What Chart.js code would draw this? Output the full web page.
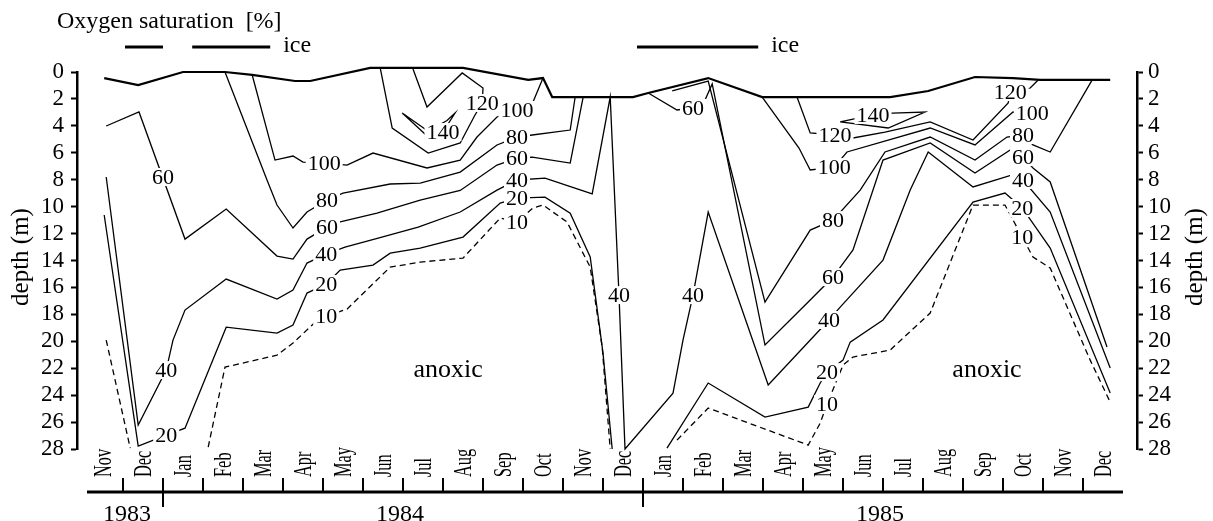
<!DOCTYPE html>
<html>
<head>
<meta charset="utf-8">
<script src="https://cdn.jsdelivr.net/npm/chart.js@4/dist/chart.umd.min.js"></script>
<style>
  html, body { margin: 0; padding: 0; background: #fff; }
  #wrap { width: 1213px; height: 521px; position: relative; }
</style>
</head>
<body>
<div id="wrap"><canvas id="chart" width="1213" height="521"></canvas></div>
<script>
// x = months since 1 Nov 1983, y = depth (m)
const monthLabels = ['Nov','Dec','Jan','Feb','Mar','Apr','May','Jun','Jul','Aug','Sep','Oct','Nov','Dec',
                     'Jan','Feb','Mar','Apr','May','Jun','Jul','Aug','Sep','Oct','Nov','Dec'];
const yearLabels = ['1983', '1984', '1985'];
const yearStarts = [0, 2, 14, 26];
const iceStart = [1.05, 2.73, 13.85];
const iceEnd   = [2.0, 4.68, 16.88];
const iceTextAfter = [false, true, true];

// water surface / ice underside
const surface = [[0.53,0.45],[1.38,0.97],[2.5,0],[3.55,0],[4.23,0.22],[5.3,0.67],[5.68,0.67],[7.18,-0.3],[9.5,-0.3],
  [11.13,0.59],[11.5,0.45],[11.73,1.86],[13.75,1.86],[14.13,1.56],[15.63,0.45],[16.98,1.86],[20.18,1.86],[21.13,1.41],
  [22.3,0.37],[23.25,0.45],[23.93,0.59],[25.68,0.59]];

// 10 % saturation (dashed)
const iso10a = [[0.58,19.91],[1.18,27.93]];
const iso10b = [[3.13,27.86],[3.55,21.92],[4.85,21.03],[5.25,20.13],[5.8,18.6],[6.08,18.13],[6.6,17.61],[7.68,14.49],
  [8.43,14.12],[9.5,13.82],[10.43,10.85],[10.85,11.14],[11.25,10.1],[11.5,9.88],[12.1,11.14],[12.68,14.49],[12.98,20.43],[13.18,28]];
const iso10c = [[14.85,27.34],[15.63,24.96],[18.13,27.71],[18.43,26.08],[18.6,24.67],[19.0,21.77],[19.25,21.17],[20.18,20.65],
  [21.18,17.9],[22.25,9.88],[23.05,9.88],[23.48,12.26],[23.75,13.74],[24.18,14.56],[25.18,21.4],[25.68,24.52]];

// 20 %
const iso20a = [[0.53,10.62],[1.38,27.79],[2.08,26.97],[2.55,26.45],[3.58,18.95],[4.85,19.39],[5.25,18.8],[5.6,16.42],
  [6.08,15.75],[6.43,14.71],[7.25,14.34],[7.68,13.45],[8.43,13.08],[9.5,12.26],[10.43,9.73],[10.85,9.36],[11.55,9.29],
  [12.18,10.48],[12.68,13.74],[13.0,20.88],[13.23,28]];
const iso20b = [[14.6,27.93],[15.63,23.1],[17.05,25.63],[18.13,24.89],[18.43,23.1],[18.6,22.29],[19.0,21.4],[19.18,20.06],
  [20.0,18.42],[22.25,9.66],[23.05,8.99],[23.48,10.1],[24.18,13.08],[25.68,23.85]];

// 40 %
const iso40 = [[0.58,7.8],[1.38,26.23],[2.08,22.14],[2.25,19.91],[2.55,17.68],[3.58,15.38],[4.85,16.86],[5.25,16.2],[5.6,14.19],
  [6.08,13.52],[6.55,13.0],[7.38,12.33],[8.38,11.52],[9.43,10.4],[10.35,8.77],[10.85,8.02],[11.55,7.88],[12.73,9.06],
  [13.18,1.86],[13.4,16.57],[13.55,28],[14.75,23.85],[15.0,19.91],[15.25,16.57],[15.63,10.4],[17.13,23.25],[18.65,18.42],
  [18.93,17.46],[20.0,13.97],[20.68,8.77],[21.13,5.94],[22.25,8.54],[23.23,7.65],[23.5,8.02],[24.18,10.4],[25.68,21.99]];

// 60 %
const iso60a = [[0.58,4.01],[1.4,2.97],[2.55,12.41],[3.58,10.18],[4.85,13.67],[5.25,13.89],[5.6,12.41],[6.1,11.52],
  [6.43,11.14],[7.35,10.48],[8.43,9.51],[9.43,8.8],[10.35,6.91],[10.85,6.39],[11.23,6.32],[12.18,6.76],[12.5,1.93]];
const iso60b = [[14.13,1.56],[14.85,2.82],[15.25,2.67],[15.55,2.08],[15.73,0.89],[17.05,20.28],[18.18,16.94],[18.75,15.23],
  [19.25,13.22],[20.0,6.54],[21.18,5.27],[22.3,7.5],[23.18,5.79],[23.5,6.32],[23.75,7.13],[24.18,8.17],[25.6,20.43]];

// 80 %
const iso80a = [[3.55,0],[4.6,8.02],[4.85,9.88],[5.25,11.59],[5.6,10.4],[6.1,9.51],[6.5,8.99],[7.68,8.32],[8.43,8.25],
  [9.43,7.43],[10.35,5.42],[10.85,4.83],[11.23,4.68],[12.18,4.31],[12.3,1.93]];
const iso80b = [[14.73,1.41],[15.63,0.67],[17.05,17.09],[18.18,11.74],[18.75,11.0],[19.43,8.77],[20.05,5.94],[21.18,4.83],
  [22.3,6.54],[23.1,4.83],[23.5,4.68],[23.75,5.42],[24.18,5.94],[25.23,0.59]];

// 100 %
const iso100a = [[4.23,0.22],[4.8,6.54],[5.25,6.24],[5.5,6.69],[6.03,6.76],[6.6,6.91],[7.25,6.02],[8.6,7.13],[9.43,6.54],
  [9.85,4.83],[10.35,3.34],[10.85,2.82],[11.25,2.23],[11.5,0.45]];
const iso100b = [[16.98,1.86],[17.9,5.65],[18.18,7.28],[18.78,7.06],[19.1,5.94],[21.18,4.16],[22.3,5.42],[23.25,2.97],[23.73,3.05]];

// 120 %
const iso120a = [[7.43,-0.3],[7.73,4.16],[8.63,6.02],[9.43,5.27],[9.8,3.19],[9.98,2.3],[10.0,1.19],[9.48,0.07],[8.6,2.6],[8.25,-0.22]];
const iso120b = [[17.85,1.86],[18.18,4.53],[18.8,4.68],[19.25,4.9],[20.05,4.46],[21.18,3.71],[22.25,5.05],[23.13,2.3],
  [23.18,1.49],[23.68,1.19],[23.88,0.59]];

// 140 %
const iso140a = [[7.98,3.05],[8.63,4.83],[9.0,4.46],[9.3,3.05],[9.1,3.6],[8.63,4.4],[7.98,3.05]];
const iso140b = [[18.93,3.71],[20.13,4.16],[21.05,2.97],[20.23,3.05],[19.75,3.19],[18.93,3.71]];

// isoline labels: text, month, depth
const contourLabels = [
  ['60',2.0,7.8],['40',2.08,22.14],['20',2.08,26.97],
  ['100',6.03,6.76],['80',6.1,9.51],['60',6.1,11.52],['40',6.08,13.52],['20',6.08,15.75],['10',6.08,18.13],
  ['140',9.0,4.46],['120',9.98,2.3],['100',10.85,2.82],['80',10.85,4.83],['60',10.85,6.39],['40',10.85,8.02],
  ['20',10.85,9.36],['10',10.85,11.14],
  ['40',13.4,16.57],['40',15.25,16.57],['60',15.25,2.67],
  ['120',18.8,4.68],['140',19.75,3.19],['100',18.78,7.06],['80',18.75,11.0],['60',18.75,15.23],['40',18.65,18.42],
  ['20',18.6,22.29],['10',18.6,24.67],
  ['120',23.18,1.49],['100',23.73,3.05],['80',23.5,4.68],['60',23.5,6.32],['40',23.5,8.02],['20',23.48,10.1],['10',23.48,12.26]
];
const zoneLabels = [['anoxic', 9.13, 22.14], ['anoxic', 22.6, 22.14]];

const SERIF = '"Liberation Serif", "Times New Roman", serif';

function line(points, opts) {
  return Object.assign({
    data: points.map(p => ({ x: p[0], y: p[1] })),
    borderColor: '#000', borderWidth: 1.3, pointRadius: 0, showLine: true,
    fill: false, tension: 0, clip: false
  }, opts || {});
}

const dashed = { borderDash: [6, 4] };
const datasets = [
  line(surface, { borderWidth: 2.2 }),
  line(iso10a, dashed), line(iso10b, dashed), line(iso10c, dashed),
  line(iso20a), line(iso20b), line(iso40),
  line(iso60a), line(iso60b), line(iso80a), line(iso80b),
  line(iso100a), line(iso100b), line(iso120a), line(iso120b),
  line(iso140a), line(iso140b)
];

const decorations = {
  id: 'decorations',
  afterDatasetsDraw(chart) {
    const ctx = chart.ctx, xs = chart.scales.x, ys = chart.scales.y;
    ctx.save();
    ctx.font = '22px ' + SERIF;
    ctx.textAlign = 'center';
    ctx.textBaseline = 'middle';
    contourLabels.forEach(([t, mx, d]) => {
      const px = xs.getPixelForValue(mx), py = ys.getPixelForValue(d);
      const w = ctx.measureText(t).width;
      ctx.fillStyle = '#fff';
      ctx.fillRect(px - w / 2 - 2, py - 9, w + 4, 18);
      ctx.fillStyle = '#000';
      ctx.fillText(t, px, py + 1);
    });
    ctx.font = '26px ' + SERIF;
    zoneLabels.forEach(([t, mx, d]) => {
      ctx.fillText(t, xs.getPixelForValue(mx), ys.getPixelForValue(d));
    });
    ctx.restore();
  },
  afterDraw(chart) {
    const ctx = chart.ctx, xs = chart.scales.x;
    const axisY = 492;
    ctx.save();
    ctx.strokeStyle = '#000';
    ctx.fillStyle = '#000';
    // time axis
    ctx.lineWidth = 3;
    ctx.beginPath();
    ctx.moveTo(xs.getPixelForValue(0.1), axisY);
    ctx.lineTo(xs.getPixelForValue(26), axisY);
    ctx.stroke();
    ctx.lineWidth = 2;
    for (let i = 1; i < monthLabels.length; i++) {
      const px = Math.round(xs.getPixelForValue(i));
      const isYear = yearStarts.includes(i);
      ctx.beginPath();
      ctx.moveTo(px, axisY - 14);
      ctx.lineTo(px, isYear ? axisY + 15 : axisY);
      ctx.stroke();
    }
    // month names, condensed and rotated
    ctx.font = '26px ' + SERIF;
    ctx.textAlign = 'left';
    ctx.textBaseline = 'middle';
    monthLabels.forEach((m, i) => {
      const px = xs.getPixelForValue(i + 0.5) + 1;
      ctx.save();
      ctx.translate(px, axisY - 15);
      ctx.rotate(-Math.PI / 2);
      ctx.scale(0.63, 1);
      ctx.fillText(m, 0, 0);
      ctx.restore();
    });
    // years
    ctx.font = '24px ' + SERIF;
    ctx.textAlign = 'center';
    ctx.textBaseline = 'alphabetic';
    yearLabels.forEach((y, i) => {
      const px = xs.getPixelForValue((yearStarts[i] + yearStarts[i + 1]) / 2);
      ctx.fillText(y, px + (i === 0 ? 4 : -3), 521);
    });
    // ice cover
    ctx.lineWidth = 3;
    ctx.font = '24px ' + SERIF;
    ctx.textAlign = 'left';
    iceStart.forEach((s, i) => {
      const a = xs.getPixelForValue(s), b = xs.getPixelForValue(iceEnd[i]);
      ctx.beginPath();
      ctx.moveTo(a, 47);
      ctx.lineTo(b, 47);
      ctx.stroke();
      if (iceTextAfter[i]) ctx.fillText('ice', b + 13, 52);
    });
    // heading
    ctx.fillText('Oxygen saturation  [%]', 57, 28);
    // axis titles
    ctx.font = '25px ' + SERIF;
    ctx.textAlign = 'center';
    ctx.textBaseline = 'middle';
    [21, 1195].forEach(px => {
      ctx.save();
      ctx.translate(px, 257);
      ctx.rotate(-Math.PI / 2);
      ctx.fillText('depth (m)', 0, 0);
      ctx.restore();
    });
    ctx.restore();
  }
};

const depthAxis = (pos, width, pad) => ({
  type: 'linear', position: pos, reverse: true, min: 0, max: 28,
  afterFit(scale) { scale.width = width; },
  ticks: { stepSize: 2, color: '#000', font: { family: SERIF, size: 23 }, padding: pad, autoSkip: false },
  grid: { drawOnChartArea: false, drawTicks: true, tickLength: 6, tickWidth: 2, tickColor: '#000' },
  border: { display: true, color: '#000', width: 2.5 }
});

new Chart(document.getElementById('chart'), {
  type: 'scatter',
  data: { datasets },
  options: {
    responsive: false,
    devicePixelRatio: 1,
    animation: false,
    layout: { padding: { top: 72, bottom: 72, left: 0, right: 0 } },
    plugins: { legend: { display: false }, tooltip: { enabled: false } },
    scales: {
      x: { type: 'linear', min: -0.15, max: 26.35, display: false },
      y: depthAxis('left', 77, 7),
      y2: depthAxis('right', 76, 5)
    }
  },
  plugins: [decorations]
});
</script>
</body>
</html>
